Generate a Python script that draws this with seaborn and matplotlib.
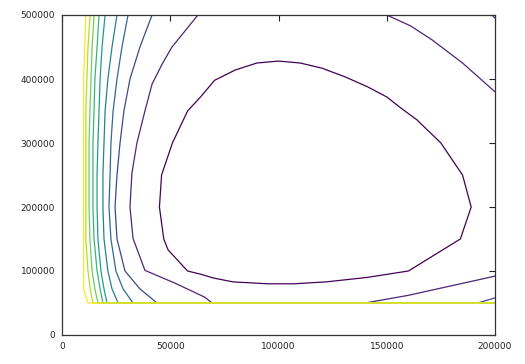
import numpy as np
import pandas as pd
import matplotlib
matplotlib.use("Agg")
import matplotlib.pyplot as plt
import seaborn as sns

# ---- data (data units) ----
x_ticks = [0, 50000, 100000, 150000, 200000]
y_ticks = [0, 100000, 200000, 300000, 400000, 500000]
x_max = 200000
y_max = 500000
y_floor = 50000

# rows (y) at which the steep left-hand contours were read
row_y = [500000, 450000, 400000, 350000, 300000, 250000, 200000, 150000, 100000, 72000, 50000]

# x positions of left-hand pieces, levels 3..10 (level 10 = highest / yellow)
left_l10 = [11000, 10500, 10000, 10000, 10000, 10000, 10000, 10000, 10000, 10000, 12000]
left_l9 = [13000, 12000, 11500, 11000, 11000, 11000, 11000, 11000, 12000, 13000, 14300]
left_l8 = [14800, 13900, 13400, 12900, 12500, 12500, 12500, 12900, 13900, 15200, 16600]
left_l7 = [17100, 16200, 15200, 14800, 14300, 14300, 14300, 14800, 16200, 17600, 18900]
left_l6 = [19900, 18500, 17600, 17100, 16600, 16200, 16200, 16600, 18000, 19400, 20800]
left_l5 = [25400, 23100, 21200, 19900, 19400, 18900, 18900, 19400, 21200, 23100, 25900]
left_l4 = [30500, 27700, 25400, 23600, 22600, 22200, 21700, 22600, 24900, 28200, 32800]
left_l3 = [41600, 36000, 31400, 28600, 26800, 25400, 24500, 25400, 29100, 36000, 43900]

# level 2, left piece
l2_left_x = [62800, 50800, 46200, 41600, 38300, 34600, 32300, 31400, 32800, 38300, 52200, 66000, 69300, 140000, 160000, 180000, 200000]
l2_left_y = [500000, 450000, 423000, 392000, 350000, 300000, 253000, 200000, 151000, 101000, 81000, 59000, 50000, 50000, 62000, 77000, 92000]
# level 2, upper-right piece
l2_right_x = [150000, 161000, 171000, 185000, 200000]
l2_right_y = [500000, 483000, 461000, 425000, 380000]
# level 3 pieces on the right
l3_bottom_x = [192000, 200000]
l3_bottom_y = [50000, 58000]
l3_corner_x = [198500, 200000]
l3_corner_y = [500000, 495000]

# level 1, closed inner loop
l1_x = [45000, 46000, 51000, 58000, 64000, 70500, 80000, 90000, 100000, 110000, 120000,
        131000, 141000, 150000, 156000, 164000, 175000, 185000, 189000, 184000, 160000,
        141000, 122000, 107000, 95000, 79000, 70000, 64000, 58000, 49000, 47000, 45000]
l1_y = [200000, 250000, 300000, 350000, 372000, 398000, 414000, 425000, 428000, 425000, 417000,
        403000, 388000, 372000, 356000, 336000, 300000, 250000, 200000, 150000, 100000,
        90000, 83000, 80000, 80000, 83000, 89000, 95000, 100000, 133000, 150000, 200000]

n_levels = 10

# ---- figure ----
sns.set_style("white")
plt.rcParams['font.family'] = ['DejaVu Sans']
fig = plt.figure(figsize=(5.25, 3.64), dpi=100)
ax = fig.add_axes([62 / 525, 29 / 364, 433 / 525, 320 / 364])

colors = sns.color_palette("viridis", as_cmap=True)(np.linspace(0, 1, n_levels))

pieces = []  # (level index 0-based, x list, y list)
pieces.append((0, l1_x, l1_y))
pieces.append((1, l2_left_x, l2_left_y))
pieces.append((1, l2_right_x, l2_right_y))
left_sets = [left_l3, left_l4, left_l5, left_l6, left_l7, left_l8, left_l9, left_l10]
for k, xs in enumerate(left_sets):
    lvl = k + 2
    if lvl == 2:
        px = list(xs) + [l3_bottom_x[0]] + l3_bottom_x[1:]
        py = list(row_y) + [y_floor] + l3_bottom_y[1:]
    else:
        px = list(xs) + [x_max]
        py = list(row_y) + [y_floor]
    pieces.append((lvl, px, py))
pieces.append((2, l3_corner_x, l3_corner_y))

for lvl, px, py in sorted(pieces, key=lambda p: p[0]):
    df = pd.DataFrame({"x": px, "y": py})
    sns.lineplot(data=df, x="x", y="y", sort=False, estimator=None,
                 color=colors[lvl], linewidth=0.9, ax=ax)

ax.set_xlim(0, x_max)
ax.set_ylim(0, y_max)
ax.set_xticks(x_ticks)
ax.set_yticks(y_ticks)
ax.set_xticklabels([str(v) for v in x_ticks])
ax.set_yticklabels([str(v) for v in y_ticks])
ax.set_xlabel("")
ax.set_ylabel("")
ax.tick_params(direction="in", length=4, width=0.8, top=True, right=True,
               labelsize=6.5, colors="#222222", pad=5)
for s in ax.spines.values():
    s.set_visible(True)
    s.set_color("#333333")
    s.set_linewidth(0.9)

fig.savefig("out.png", dpi=100, facecolor="white")
